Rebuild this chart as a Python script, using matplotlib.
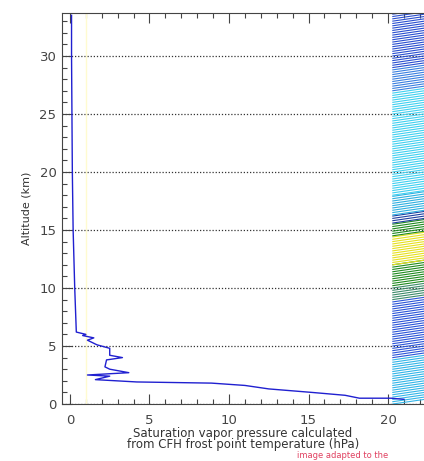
import numpy as np
import matplotlib
matplotlib.use("Agg")
import matplotlib.pyplot as plt
from matplotlib.ticker import MultipleLocator

# CFH profile: saturation vapor pressure (hPa) vs altitude (km)
pressure = [21.0, 20.2, 18.2, 17.3, 15.2, 12.5, 11.0, 8.9, 4.2, 1.6, 2.5, 1.1,
            3.7, 2.5, 2.2, 2.3, 3.3, 2.5, 2.5, 1.7, 1.1, 1.5, 0.8, 1.0, 0.4,
            0.3, 0.2, 0.15, 0.1, 0.1]
altitude = [0.4, 0.5, 0.5, 0.75, 1.0, 1.3, 1.6, 1.8, 1.9, 2.1, 2.4, 2.5,
            2.7, 3.0, 3.2, 3.8, 4.0, 4.2, 4.8, 5.1, 5.5, 5.7, 5.9, 6.0, 6.2,
            10.0, 15.0, 20.0, 30.0, 33.5]

# coloured strip at the right edge: (bottom km, top km, colour)
bands = [
    (0.0, 4.0, "#33b5e8"),
    (4.0, 9.0, "#2b55d8"),
    (9.0, 10.2, "#3c8a6a"),
    (10.2, 12.0, "#1f8a1f"),
    (12.0, 14.5, "#e6e020"),
    (14.5, 15.6, "#1f8a1f"),
    (15.6, 16.3, "#1f3fa0"),
    (16.3, 18.0, "#2fb0e0"),
    (18.0, 27.0, "#40d0f0"),
    (27.0, 29.0, "#3a80e0"),
    (29.0, 33.6, "#2a4fd0"),
]

fig = plt.figure(figsize=(4.24, 4.61), dpi=100)
ax = fig.add_axes([62 / 424, 1 - 404 / 461, 1 - 62 / 424, (404 - 13) / 461])

# coloured strip drawn as slanted strokes
for y0, y1, col in bands:
    for y in np.arange(y0, y1, 0.2):
        ax.plot([20.3, 22.3], [y, y + 0.4], color=col, lw=0.8)

ax.axvline(1.0, color="#fffbd0", lw=1.0)
ax.plot(pressure, altitude, color="#2020d0", lw=1.0)

ax.set_xlim(-0.5, 22.26)
ax.set_ylim(0, 33.7)
ax.xaxis.set_major_locator(MultipleLocator(5))
ax.xaxis.set_minor_locator(MultipleLocator(1))
ax.yaxis.set_major_locator(MultipleLocator(5))
ax.yaxis.set_minor_locator(MultipleLocator(1))
ax.tick_params(which="both", direction="in", top=True, right=False,
               colors="#444444", labelsize=9.5, width=0.8)
ax.tick_params(which="major", length=7)
ax.tick_params(which="minor", length=3.5)
ax.tick_params(axis="x", pad=7)
ax.tick_params(axis="y", pad=4)
ax.set_yticks([0, 5, 10, 15, 20, 25, 30])
ax.grid(axis="y", which="major", linestyle=(0, (1, 1.5)), color="#333333", lw=0.9)
for s in ["left", "bottom", "top"]:
    ax.spines[s].set_color("#444444")
ax.spines["right"].set_visible(False)

ax.set_ylabel("Altitude (km)", fontsize=8, color="#333333", labelpad=6)
ax.set_xlabel("Saturation vapor pressure calculated\nfrom CFH frost point temperature (hPa)",
              fontsize=8.5, color="#333333", labelpad=0, linespacing=0.85)
fig.text(0.70, 0.006, "image adapted to the", color="#e04060", fontsize=6)

fig.savefig("out.png", dpi=100)
